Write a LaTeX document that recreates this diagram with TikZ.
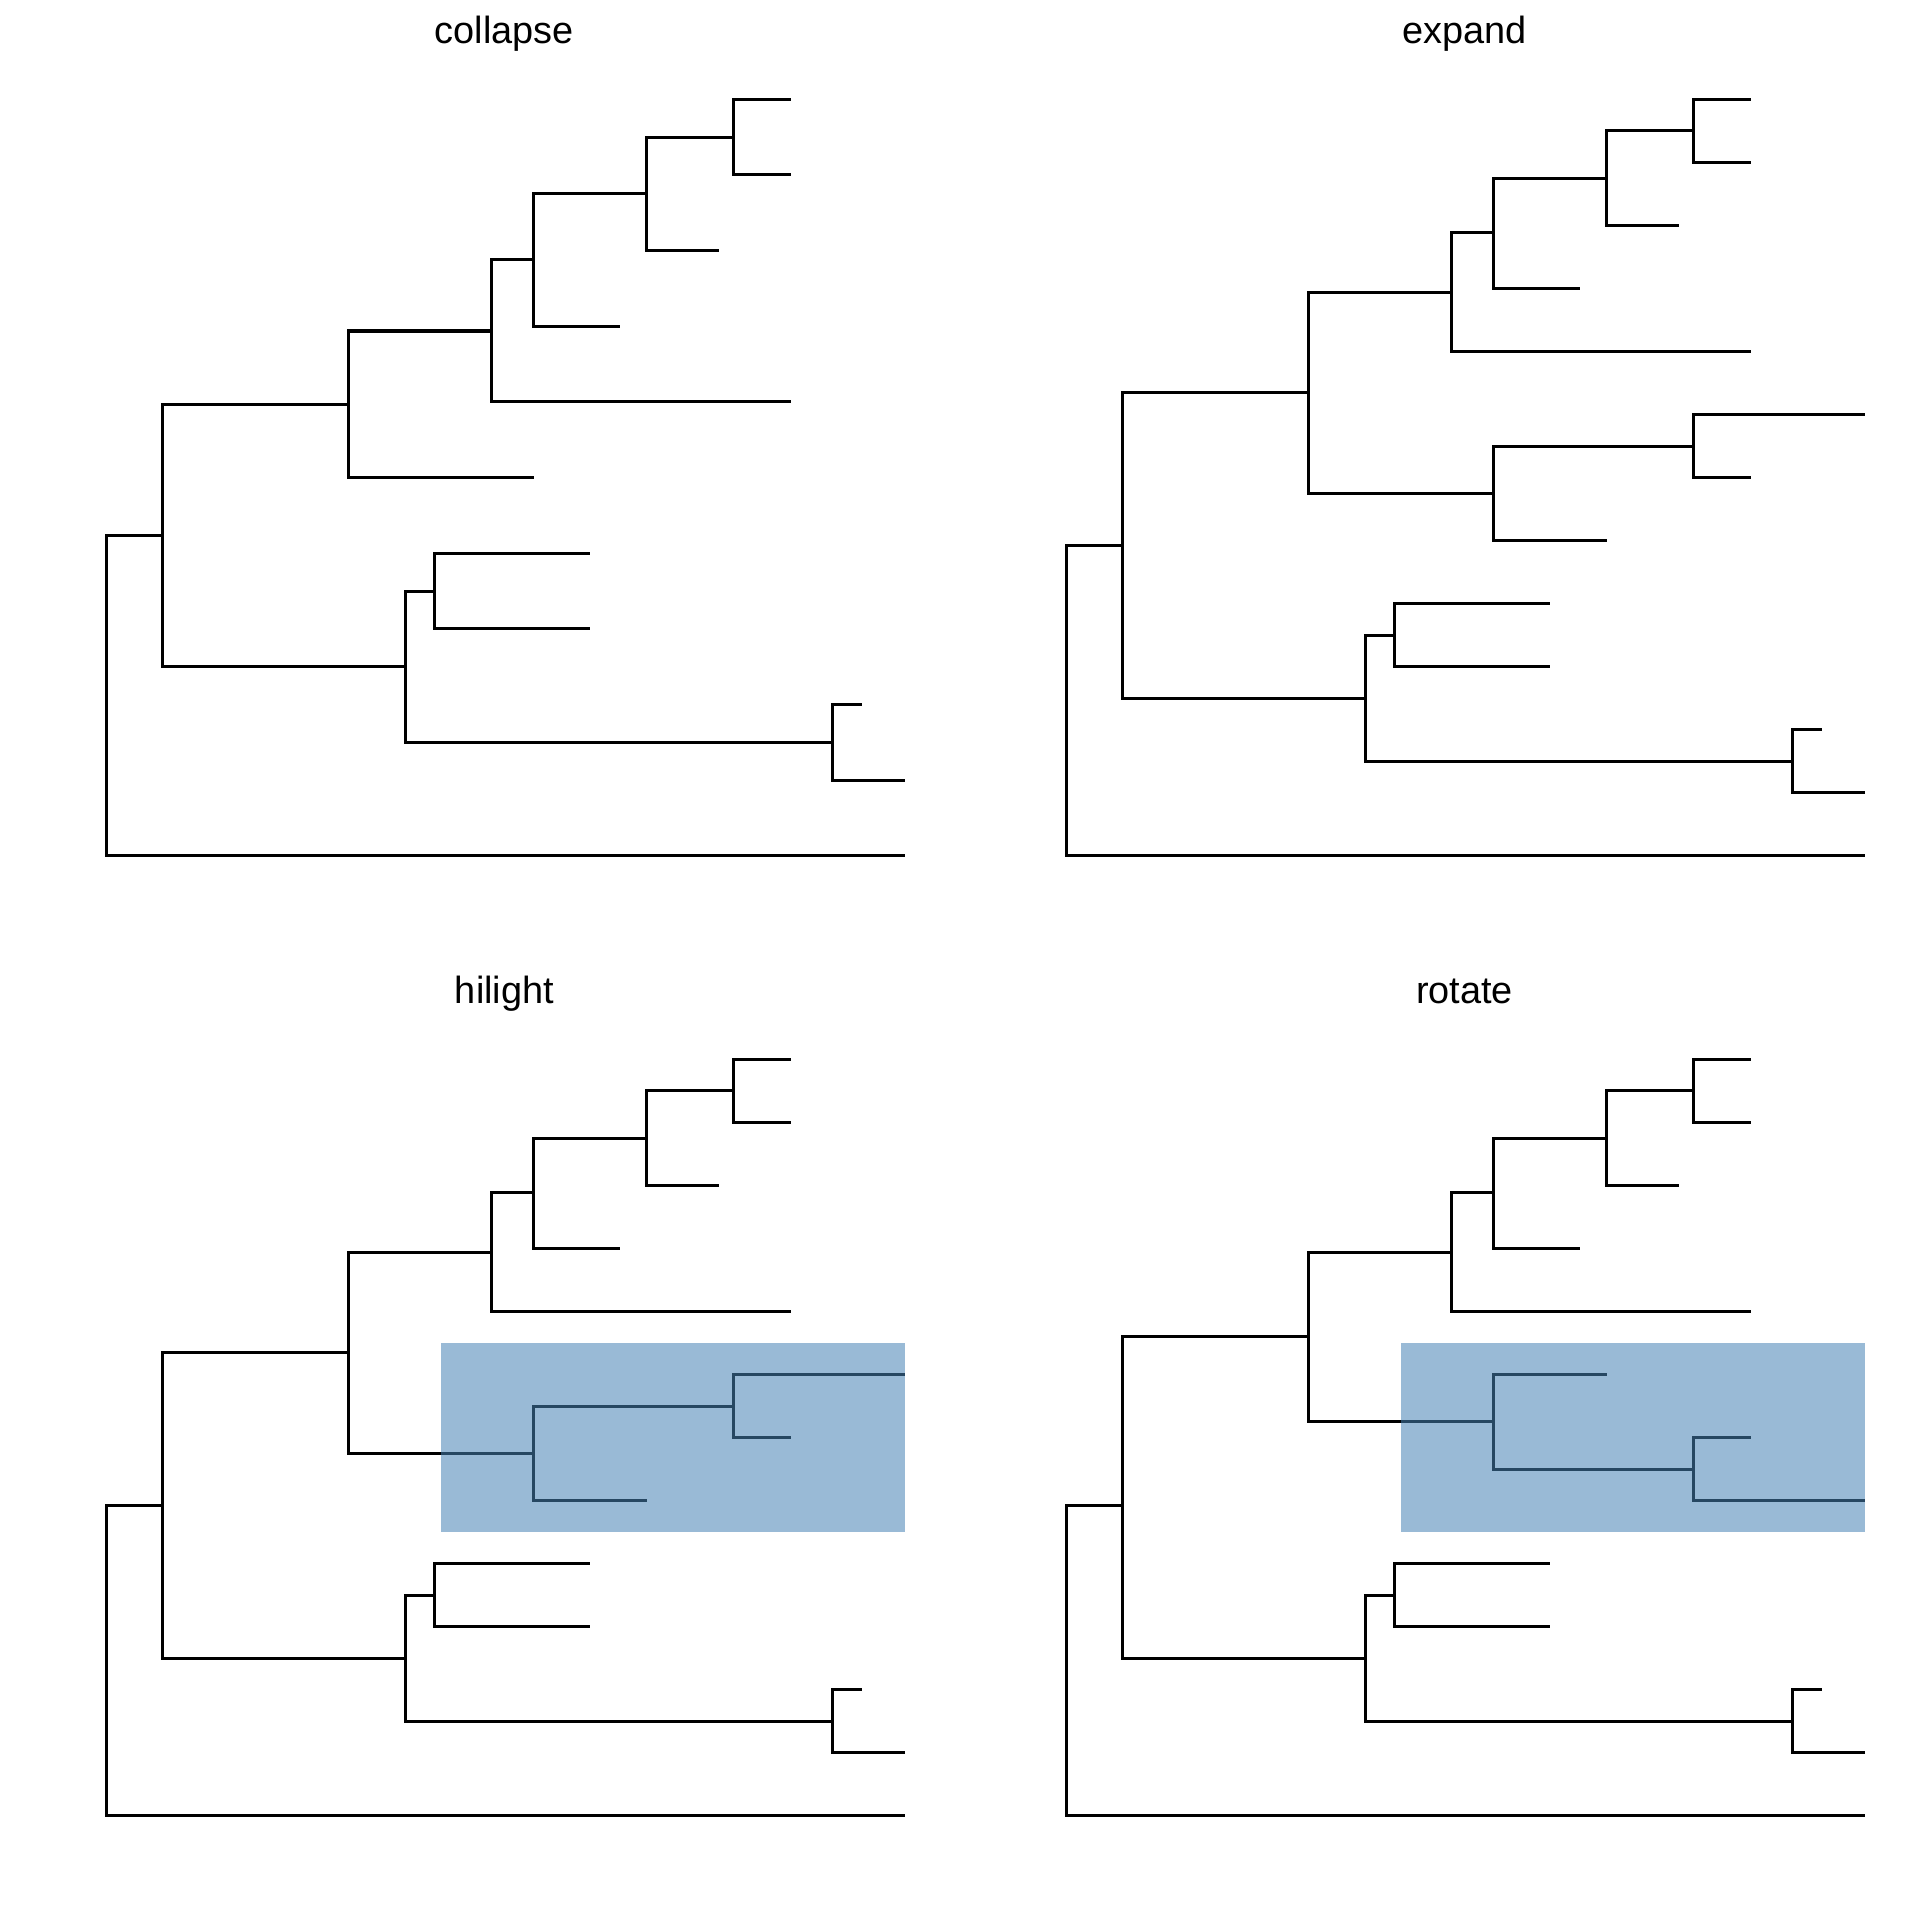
\documentclass[tikz,border=0pt]{standalone}
\usepackage{fontspec}
\setmainfont{Liberation Sans}
\usepackage{tikz}
\usetikzlibrary{calc, positioning}

\tikzset{
  branch/.style={line width=0.7pt, line cap=butt, line join=miter},
  hilite/.style={fill={rgb,255:red,70;green,130;blue,180}, fill opacity=0.55},
  paneltitle/.style={anchor=base, inner sep=0pt, font=\fontsize{8.8}{10}\selectfont}
}

% node and tip positions of the full tree (one panel, y downwards)
\newcommand{\setfulltree}{%
\coordinate (R) at (87,572.2);
\coordinate (A) at (133,445.5);
\coordinate (B) at (285,320.7);
\coordinate (C) at (331,570.25);
\coordinate (D) at (401,238.6);
\coordinate (E) at (436,190.2);
\coordinate (F) at (528,145.4);
\coordinate (G) at (599,106.75);
\coordinate (X) at (436,402.9);
\coordinate (Y) at (599,364.25);
\coordinate (H) at (355,518.75);
\coordinate (I) at (680,621.75);
\coordinate (g1) at (646,81);
\coordinate (g2) at (646,132.5);
\coordinate (f1) at (587,184);
\coordinate (e1) at (506,235.5);
\coordinate (d1) at (646,287);
\coordinate (y1) at (739,338.5);
\coordinate (y2) at (646,390);
\coordinate (x1) at (528,441.5);
\coordinate (h1) at (482,493);
\coordinate (h2) at (482,544.5);
\coordinate (i1) at (704,596);
\coordinate (i2) at (739,647.5);
\coordinate (t) at (739,699);
\coordinate (hl1) at (360.5,312.75);
\coordinate (hl2) at (739,467.25);
}
\newcommand{\drawfulltree}{%
\draw[branch] (R) |- (A) (R) |- (t)
  (A) |- (B) (A) |- (C)
  (B) |- (D) (B) |- (X)
  (D) |- (E) (D) |- (d1)
  (E) |- (F) (E) |- (e1)
  (F) |- (G) (F) |- (f1)
  (G) |- (g1) (G) |- (g2)
  (X) |- (Y) (X) |- (x1)
  (Y) |- (y1) (Y) |- (y2)
  (C) |- (H) (C) |- (I)
  (H) |- (h1) (H) |- (h2)
  (I) |- (i1) (I) |- (i2);
}

\begin{document}
\begin{tikzpicture}[x=0.01cm, y=-0.01cm]
\useasboundingbox (0,0) rectangle (1568,1568);

\begin{scope}
\node[paneltitle] (ttlcollapse) at (412,35.4) {collapse};
\coordinate (R) at (87,568.2);
\coordinate (A) at (133,437.3);
\coordinate (B) at (285,330.1);
\coordinate (C) at (331,544.5);
\coordinate (D) at (401,270.3);
\coordinate (E) at (436,212.3);
\coordinate (F) at (528,158.25);
\coordinate (G) at (599,111.9);
\coordinate (H) at (355,482.7);
\coordinate (I) at (680,606.3);
\coordinate (g1) at (646,81);
\coordinate (g2) at (646,142.8);
\coordinate (f1) at (587,204.6);
\coordinate (e1) at (506,266.4);
\coordinate (d1) at (646,328.2);
\coordinate (x1) at (436,390);
\coordinate (h1) at (482,451.8);
\coordinate (h2) at (482,513.6);
\coordinate (i1) at (704,575.4);
\coordinate (i2) at (739,637.2);
\coordinate (t) at (739,699);
\draw[branch] (R) |- (A) (R) |- (t)
  (A) |- (B) (A) |- (C)
  (B) |- (D) (B) |- (x1)
  (D) |- (E) (D) |- (d1)
  (E) |- (F) (E) |- (e1)
  (F) |- (G) (F) |- (f1)
  (G) |- (g1) (G) |- (g2)
  (C) |- (H) (C) |- (I)
  (H) |- (h1) (H) |- (h2)
  (I) |- (i1) (I) |- (i2);
\end{scope}

\begin{scope}[shift={(784,0)}]
\node[paneltitle] (ttlexpand) at (412,35.4) {expand};
\setfulltree
\drawfulltree
\end{scope}

\begin{scope}[shift={(0,784)}]
\node[paneltitle] (ttlhilight) at (412,35.4) {hilight};
\setfulltree
\drawfulltree
\fill[hilite] (hl1) rectangle (hl2);
\end{scope}

\begin{scope}[shift={(784,784)}]
\node[paneltitle] (ttlrotate) at (412,35.4) {rotate};
\setfulltree
\coordinate (B) at (285,307.85);
\coordinate (X) at (436,377.1);
\coordinate (Y) at (599,415.75);
\coordinate (x1) at (528,338.5);
\coordinate (y2) at (646,390);
\coordinate (y1) at (739,441.5);
\drawfulltree
\fill[hilite] (hl1) rectangle (hl2);
\end{scope}
\end{tikzpicture}
\end{document}
